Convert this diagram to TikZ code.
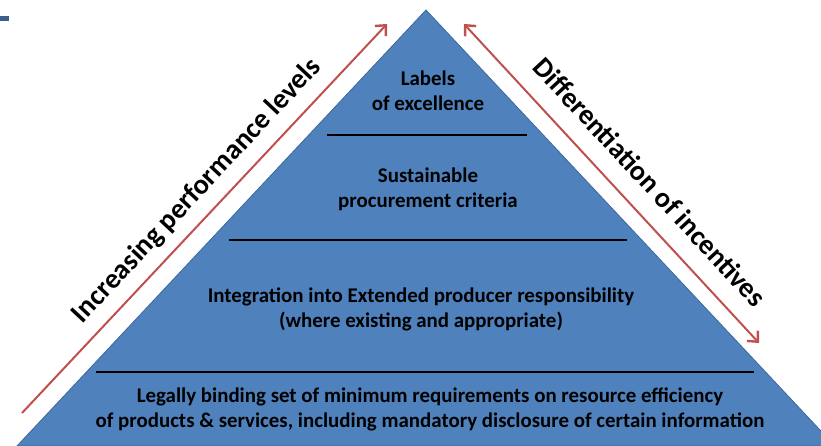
\documentclass[tikz,border=0pt]{standalone}
\usepackage{fontspec}
\setmainfont{Carlito}
\usepackage{tikz}
\usetikzlibrary{arrows.meta,calc,positioning}
\definecolor{pyrblue}{HTML}{4F81BD}
\definecolor{pyredge}{HTML}{3C6A9E}
\definecolor{arrred}{HTML}{C0504D}
\definecolor{barblue}{HTML}{3B5E8C}

\begin{document}
\begin{tikzpicture}[
	x=1pt, y=-1pt,
	level/.style={align=center, font=\fontsize{20.9}{25}\selectfont\bfseries, text=black},
	side/.style={font=\fontsize{28.3}{32}\selectfont\bfseries, text=black},
	sep/.style={draw=black, line width=1.6pt},
	trend/.style={draw=arrred, line width=2pt},
	>={Straight Barb[length=8pt, width=15pt, line width=2.4pt]}
	]
	\useasboundingbox (0,0) rectangle (821,446);

	% Le coin en haut a gauche
	\fill[barblue] (0,16) rectangle (9,21);

	% La pyramide
	\coordinate (top) at (426,10);
	\coordinate (bl) at (17,446);
	\coordinate (br) at (835,446);
	\begin{scope}
		\clip (0,0) rectangle (821,446);
		\draw[fill=pyrblue, draw=pyredge, line width=0.8pt] (bl) -- (top) -- (br) -- cycle;
	\end{scope}

	% Les separations
	\draw[sep] (327,135) -- (527,135);
	\draw[sep] (229,240) -- (627,240);
	\draw[sep] (96,372) -- (754,372);

	% Les niveaux
	\node[level] (lab) at (428,91) {Labels\\of excellence};
	\node[level] (spc) at (428,189) {Sustainable\\procurement criteria};
	\node[level] (epr) at (421,309) {Integration into Extended producer responsibility\\(where existing and appropriate)};
	\node[level] (lbs) at (430,409) {Legally binding set of minimum requirements on resource efficiency\\of products \& services, including mandatory disclosure of certain information};

	% Les fleches
	\coordinate (la) at (22,413);
	\coordinate (lb) at (387,24);
	\coordinate (ra) at (464,24);
	\coordinate (rb) at (759,343);
	\draw[trend, ->] (la) -- (lb);
	\draw[trend, <->] (ra) -- (rb);

	% Les textes obliques
	\node[side, rotate=46.9] (inc) at (197,191) {Increasing performance levels};
	\node[side, rotate=-47.2] (dif) at (650,182) {Differentiation of incentives};
\end{tikzpicture}
\end{document}
